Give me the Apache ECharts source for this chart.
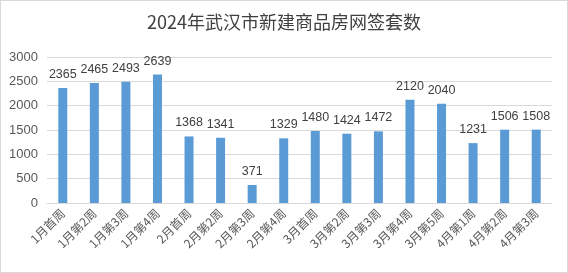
<!DOCTYPE html>
<html><head><meta charset="utf-8">
<script src="https://cdn.jsdelivr.net/npm/echarts@6/dist/echarts.min.js"></script>
<style>html,body{margin:0;padding:0;background:#fff}#c{width:568px;height:273px;box-sizing:border-box;border:1px solid #d9d9d9}</style>
</head><body><div id="c"></div>
<script>
const categories = ['1月首周','1月第2周','1月第3周','1月第4周','2月首周','2月第2周','2月第3周','2月第4周','3月首周','3月第2周','3月第3周','3月第4周','3月第5周','4月第1周','4月第2周','4月第3周'];
const values = [2365,2465,2493,2639,1368,1341,371,1329,1480,1424,1472,2120,2040,1231,1506,1508];
const yTicks = [0,500,1000,1500,2000,2500,3000];
const chart = echarts.init(document.getElementById('c'));
chart.setOption({
  animation:false,
  title:{text:'2024年武汉市新建商品房网签套数',left:'center',top:7,textStyle:{fontFamily:'Noto Sans CJK SC',fontSize:18,fontWeight:'normal',color:'#404040'}},
  grid:{left:46,right:15,top:56,bottom:69},
  xAxis:{type:'category',data:categories,axisTick:{show:false},axisLine:{lineStyle:{color:'#d9d9d9'}},
    axisLabel:{rotate:45,interval:0,fontFamily:'Noto Sans CJK SC',fontSize:12,color:'#595959',margin:8}},
  yAxis:{type:'value',min:yTicks[0],max:yTicks[yTicks.length-1],interval:500,
    axisLabel:{fontFamily:'Liberation Sans',fontSize:13,color:'#595959',margin:9,formatter:v=>String(v)},
    splitLine:{lineStyle:{color:'#d9d9d9'}},axisLine:{show:false},axisTick:{show:false}},
  series:[{type:'bar',data:values,barWidth:9,itemStyle:{color:'#5b9bd5'},
    label:{show:true,position:'top',distance:7,fontFamily:'Liberation Sans',fontSize:12.5,color:'#404040'}}]
});
</script></body></html>
